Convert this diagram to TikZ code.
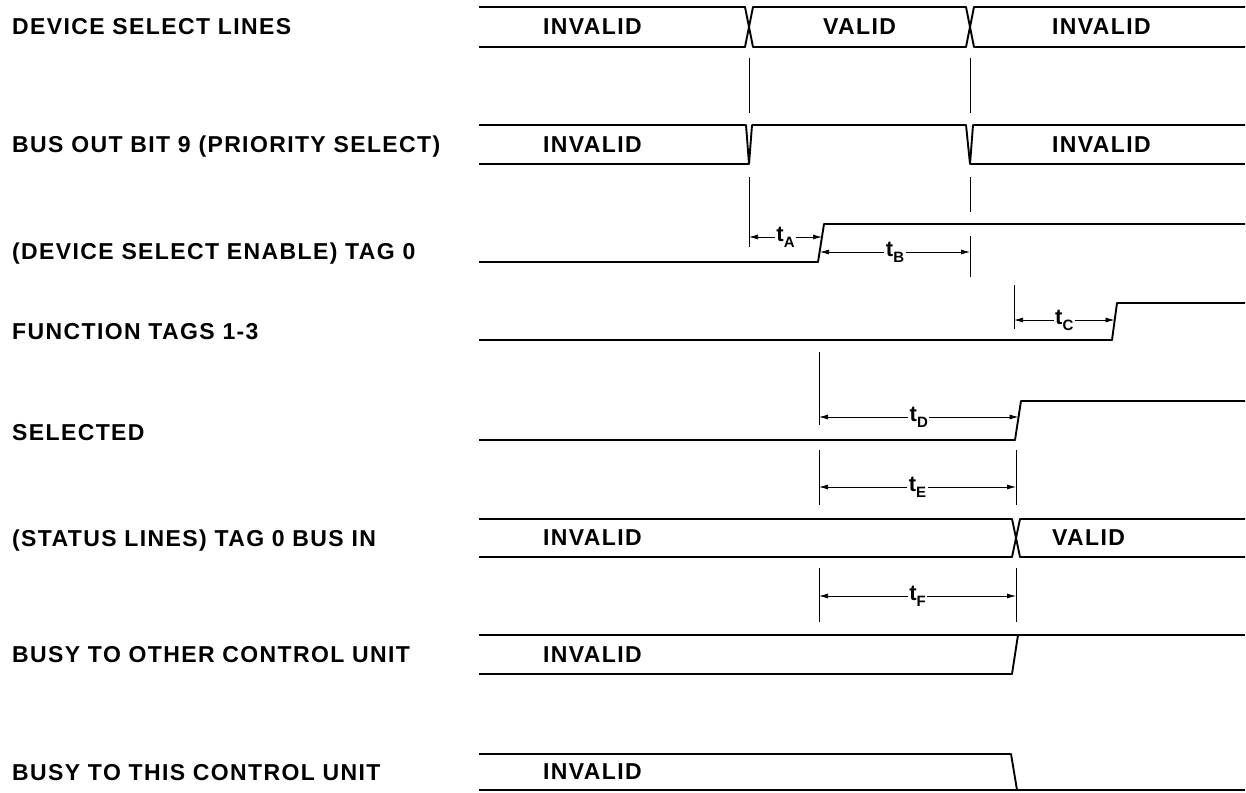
\documentclass[tikz,border=0pt]{standalone}
\usepackage{fontspec}
\setmainfont{Liberation Sans}[LetterSpace=6]
\usepackage{tikz}
\usetikzlibrary{arrows.meta}
\newcommand{\tsub}[1]{t\raisebox{-0.5ex}{\fontsize{15pt}{15pt}\selectfont #1}}

\begin{document}
\begin{tikzpicture}[x=1pt, y=-1pt,
  sig/.style={line width=1.9pt, line join=round},
  guide/.style={line width=0.9pt},
  dim/.style={line width=0.75pt, {Latex[length=9pt,width=5pt]}-{Latex[length=9pt,width=5pt]}},
  lbl/.style={anchor=base west, inner sep=0pt, font=\fontsize{23pt}{23pt}\selectfont\bfseries},
  state/.style={anchor=west, inner sep=0pt, font=\fontsize{23pt}{23pt}\selectfont\bfseries},
  tlab/.style={fill=white, inner sep=1.5pt, font=\fontsize{22pt}{22pt}\selectfont\bfseries}]
  \useasboundingbox (0,0) rectangle (1246,792);

  % signal names
  \node[lbl] (nDev)  at (12,35)    {DEVICE SELECT LINES};
  \node[lbl] (nBus)  at (12,152.5) {BUS OUT BIT 9 (PRIORITY SELECT)};
  \node[lbl] (nTag)  at (12,259.5) {(DEVICE SELECT ENABLE) TAG 0};
  \node[lbl] (nFun)  at (12,339)   {FUNCTION TAGS 1-3};
  \node[lbl] (nSel)  at (12,440)   {SELECTED};
  \node[lbl] (nSta)  at (12,546)   {(STATUS LINES) TAG 0 BUS IN};
  \node[lbl] (nOth)  at (12,662.5) {BUSY TO OTHER CONTROL UNIT};
  \node[lbl] (nThis) at (12,780.5) {BUSY TO THIS CONTROL UNIT};

  % device select lines
  \draw[sig] (479,7) -- (745,7) -- (749,27) -- (745,47) -- (479,47);
  \draw[sig] (753,7) -- (749,27) -- (753,47) -- (966,47) -- (970,27) -- (966,7) -- cycle;
  \draw[sig] (1245,7) -- (974,7) -- (970,27) -- (974,47) -- (1245,47);
  \node[state] (dInv1) at (543,27) {INVALID};
  \node[state] (dVal)  at (823,27) {VALID};
  \node[state] (dInv2) at (1052,27) {INVALID};
  \draw[guide] (749,58) -- (749,113);
  \draw[guide] (970,58) -- (970,113);

  % bus out bit 9
  \draw[sig] (479,125) -- (746,125) -- (749,164) -- (752,125) -- (966,125) -- (970,164) -- (973,125) -- (1245,125);
  \draw[sig] (479,164) -- (749,164);
  \draw[sig] (970,164) -- (1245,164);
  \node[state] (bInv1) at (543,144.5) {INVALID};
  \node[state] (bInv2) at (1052,144.5) {INVALID};
  \draw[guide] (749,177) -- (749,247);
  \draw[guide] (970,177) -- (970,212);
  \draw[guide] (970,236) -- (970,277);

  % tag 0
  \draw[sig] (479,262) -- (818,262) -- (824,224) -- (1245,224);
  \coordinate (aL) at (749,237);
  \coordinate (aR) at (822,237);
  \coordinate (bL) at (820,252);
  \coordinate (bR) at (970,252);
  \draw[dim] (aL) -- node[tlab] (tA) {\tsub{A}} (aR);
  \draw[dim] (bL) -- node[tlab] (tB) {\tsub{B}} (bR);

  % function tags
  \draw[sig] (479,340) -- (1112,340) -- (1117,303) -- (1245,303);
  \draw[guide] (1014,285) -- (1014,329);
  \coordinate (cL) at (1014,320);
  \coordinate (cR) at (1114.5,320);
  \draw[dim] (cL) -- node[tlab] (tC) {\tsub{C}} (cR);

  % selected
  \draw[sig] (479,440) -- (1015,440) -- (1021,401) -- (1245,401);
  \draw[guide] (819,352) -- (819,425);
  \coordinate (dL) at (819,417);
  \coordinate (dR) at (1018.5,417);
  \draw[dim] (dL) -- node[tlab] (tD) {\tsub{D}} (dR);

  \draw[guide] (819,450) -- (819,505);
  \draw[guide] (1016,450) -- (1016,505);
  \coordinate (eL) at (819,487);
  \coordinate (eR) at (1016,487);
  \draw[dim] (eL) -- node[tlab] (tE) {\tsub{E}} (eR);

  % status lines
  \draw[sig] (479,519) -- (1012,519) -- (1016,538) -- (1012,557) -- (479,557);
  \draw[sig] (1245,519) -- (1020,519) -- (1016,538) -- (1020,557) -- (1245,557);
  \node[state] (sInv) at (543,538) {INVALID};
  \node[state] (sVal) at (1052,538) {VALID};

  \draw[guide] (819,568) -- (819,622);
  \draw[guide] (1016,568) -- (1016,622);
  \coordinate (fL) at (819,596);
  \coordinate (fR) at (1016,596);
  \draw[dim] (fL) -- node[tlab] (tF) {\tsub{F}} (fR);

  % busy lines
  \draw[sig] (479,635) -- (1245,635);
  \draw[sig] (479,674) -- (1012,674) -- (1018,635);
  \node[state] (oInv) at (543,654.5) {INVALID};

  \draw[sig] (479,754) -- (1011,754) -- (1017,790);
  \draw[sig] (479,790) -- (1245,790);
  \node[state] (hInv) at (543,772) {INVALID};
\end{tikzpicture}
\end{document}
